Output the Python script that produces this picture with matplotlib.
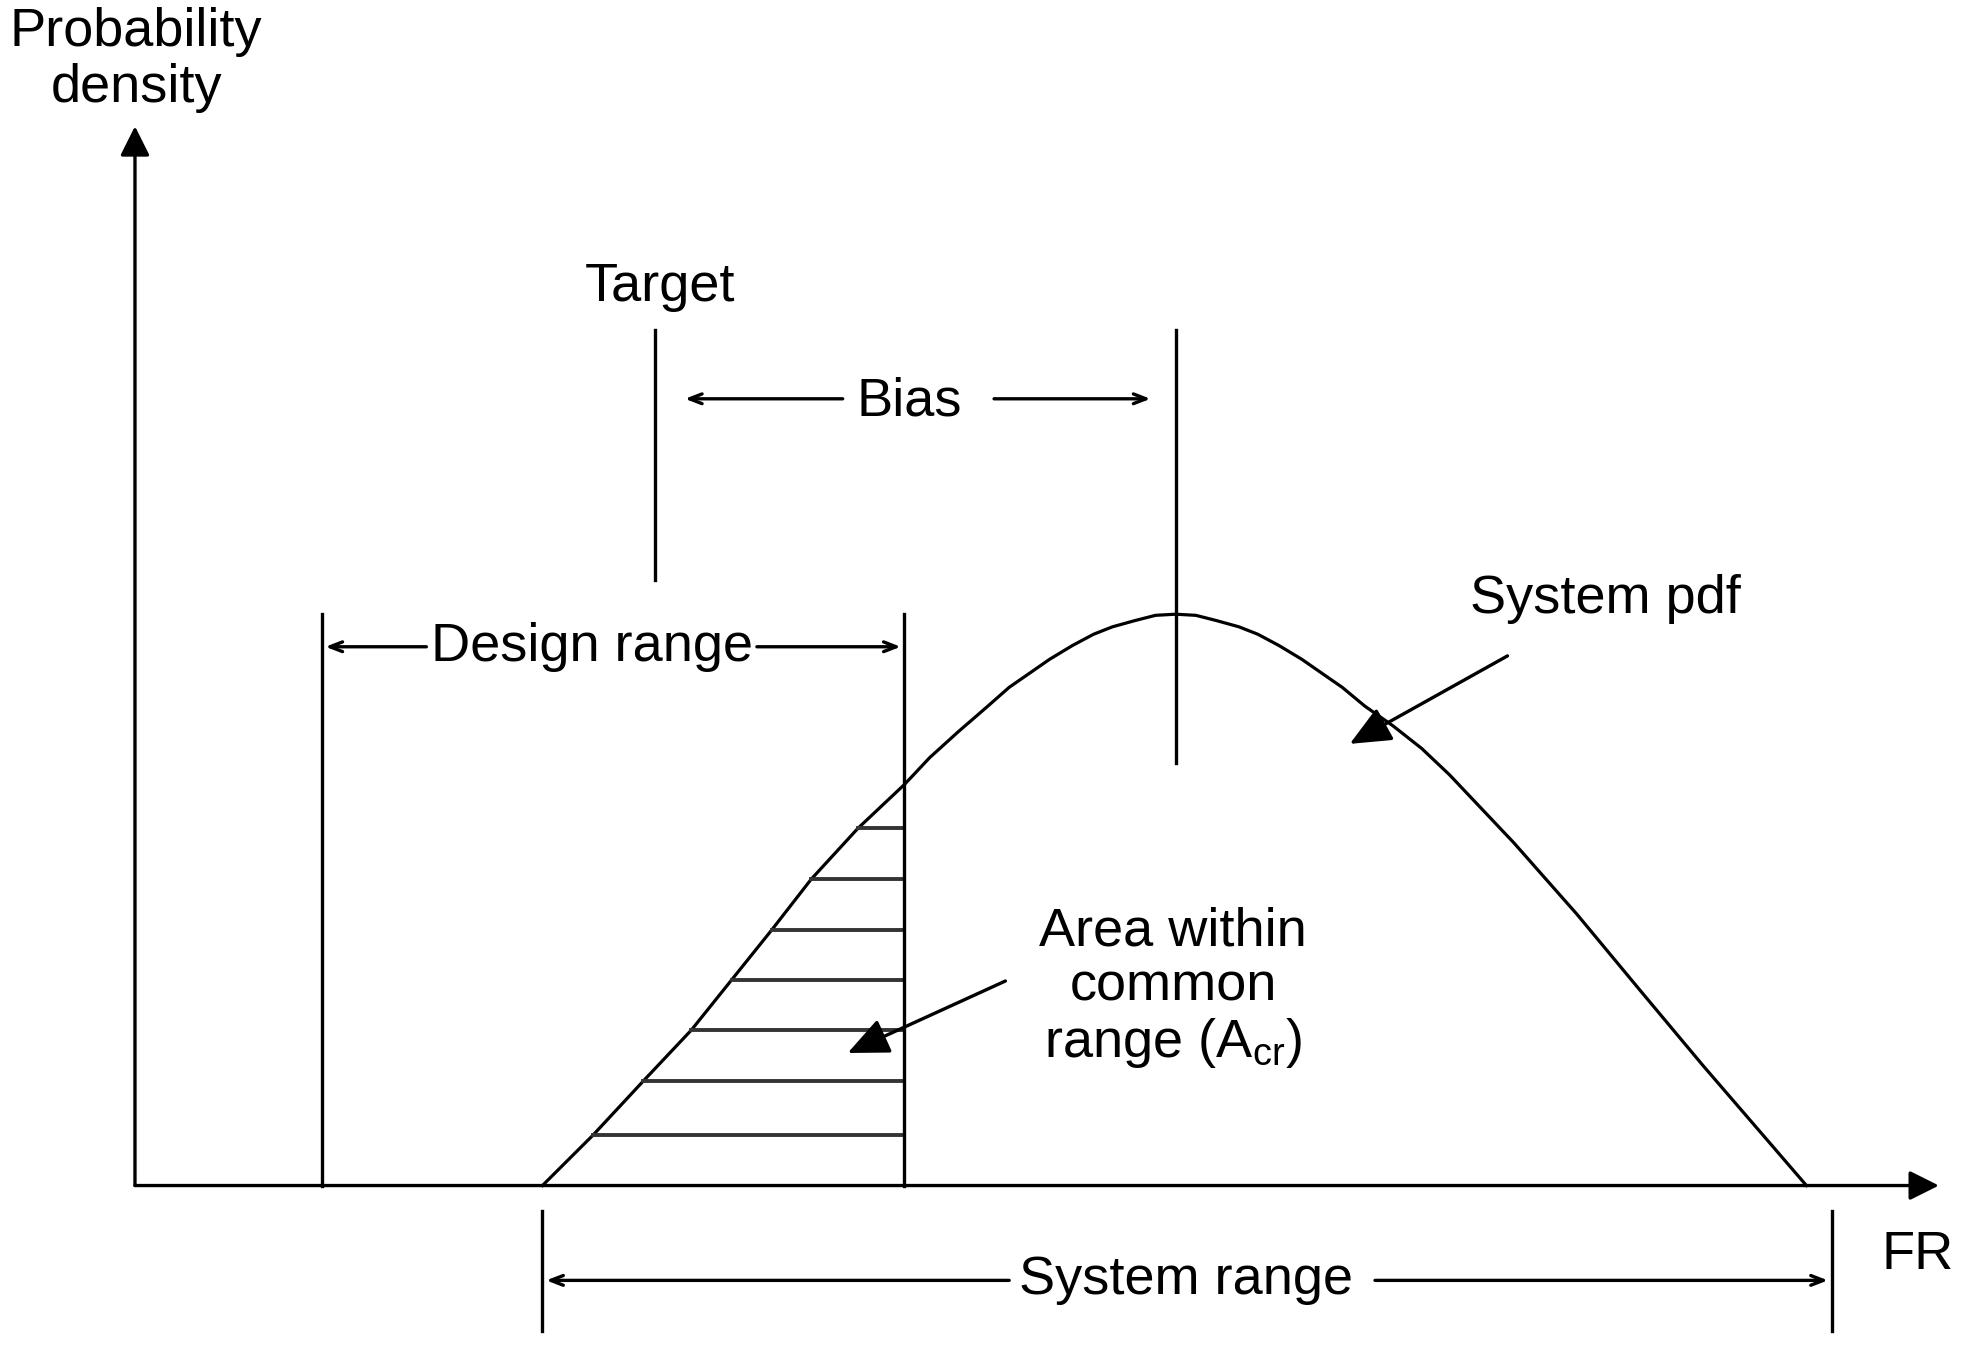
import numpy as np
import matplotlib.pyplot as plt

plt.rcParams['font.family'] = ['Liberation Sans', 'DejaVu Sans']

# system pdf (FR units, density relative to peak)
curve_fr = [3.23, 3.63, 4.03, 4.41, 4.73, 5.05, 5.36, 5.73, 6.10, 6.30, 6.53, 6.75,
            6.93, 7.10, 7.25, 7.43, 7.60, 7.75, 7.93, 8.09, 8.25, 8.41, 8.57, 8.75,
            8.90, 9.07, 9.25, 9.40, 9.57, 9.75, 9.97, 10.20, 10.42, 10.93, 11.43,
            11.93, 12.43, 12.93, 13.25]
curve_pd = [0.0, 0.088, 0.183, 0.272, 0.360, 0.448, 0.536, 0.625, 0.702, 0.749, 0.795, 0.837,
            0.872, 0.898, 0.921, 0.945, 0.965, 0.978, 0.989, 0.998, 1.0, 0.998, 0.989, 0.978,
            0.965, 0.945, 0.921, 0.898, 0.872, 0.839, 0.805, 0.765, 0.719, 0.600, 0.475,
            0.342, 0.210, 0.082, 0.0]

hatch_levels = [0.088, 0.183, 0.272, 0.360, 0.448, 0.536, 0.625]

design_lo = 1.48
design_hi = 6.10
target = 4.12
mean_fr = 8.25
sys_lo = 3.23
sys_hi = 13.45
axis_top = 1.854
axis_right = 14.30

fig = plt.figure(figsize=(19.78, 13.47), dpi=100)
ax = fig.add_axes([0, 0, 1, 1])
ax.set_xlim(-1.07, 14.61)
ax.set_ylim(-0.2826, 2.075)
ax.axis('off')

k = 'black'
lw = 2.4
fs = 39

# axes with filled arrowheads
ax.annotate('', xy=(0, axis_top), xytext=(0, 0),
            arrowprops=dict(arrowstyle='-|>', color=k, lw=lw, mutation_scale=45, shrinkA=0, shrinkB=0))
ax.annotate('', xy=(axis_right, 0), xytext=(0, 0),
            arrowprops=dict(arrowstyle='-|>', color=k, lw=lw, mutation_scale=45, shrinkA=0, shrinkB=0))

# pdf curve
ax.plot(curve_fr, curve_pd, color=k, lw=2.3, solid_joinstyle='round')

# hatching of the common range
peak_i = curve_pd.index(1.0)
rise_fr = curve_fr[:peak_i + 1]
rise_pd = curve_pd[:peak_i + 1]
for h in hatch_levels:
    x0 = np.interp(h, rise_pd, rise_fr)
    ax.plot([x0, design_hi], [h, h], color='#333333', lw=2.8)

# vertical marker lines
ax.plot([design_lo, design_lo], [0, 1.0], color=k, lw=lw)
ax.plot([design_hi, design_hi], [0, 1.0], color=k, lw=lw)
ax.plot([target, target], [1.06, 1.497], color=k, lw=lw)
ax.plot([mean_fr, mean_fr], [0.74, 1.497], color=k, lw=lw)
ax.plot([sys_lo, sys_lo], [-0.044, -0.254], color=k, lw=lw)
ax.plot([sys_hi, sys_hi], [-0.044, -0.254], color=k, lw=lw)

open_arrow = dict(arrowstyle='->,head_length=0.9,head_width=0.35', color=k, lw=lw,
                  shrinkA=0, shrinkB=0)
fill_arrow = dict(arrowstyle='-|>,head_length=0.9,head_width=0.4', color=k, lw=lw,
                  shrinkA=0, shrinkB=0, mutation_scale=28)

# design range
ax.text(3.62, 0.943, 'Design range', fontsize=fs, ha='center', va='center')
ax.annotate('', xy=(design_lo + 0.03, 0.943), xytext=(2.31, 0.943), arrowprops=open_arrow)
ax.annotate('', xy=(design_hi - 0.03, 0.943), xytext=(4.93, 0.943), arrowprops=open_arrow)

# target and bias
ax.text(4.16, 1.572, 'Target', fontsize=fs, ha='center', va='center')
ax.text(6.14, 1.372, 'Bias', fontsize=fs, ha='center', va='center')
ax.annotate('', xy=(4.36, 1.377), xytext=(5.61, 1.377), arrowprops=open_arrow)
ax.annotate('', xy=(8.05, 1.377), xytext=(6.81, 1.377), arrowprops=open_arrow)

# system pdf label
ax.text(11.66, 1.026, 'System pdf', fontsize=fs, ha='center', va='center')
ax.annotate('', xy=(9.63, 0.773), xytext=(10.88, 0.927), arrowprops=fill_arrow)

# common range label
ax.text(8.23, 0.345, 'Area within\ncommon\nrange (A$_{\\mathregular{cr}}$)', fontsize=fs,
        ha='center', va='center', linespacing=1.12)
ax.annotate('', xy=(5.65, 0.232), xytext=(6.90, 0.358), arrowprops=fill_arrow)

# system range
ax.text(8.33, -0.166, 'System range', fontsize=fs, ha='center', va='center')
ax.annotate('', xy=(sys_lo + 0.03, -0.166), xytext=(6.93, -0.166), arrowprops=open_arrow)
ax.annotate('', xy=(sys_hi - 0.03, -0.166), xytext=(9.83, -0.166), arrowprops=open_arrow)

# axis labels
ax.text(14.13, -0.121, 'FR', fontsize=fs, ha='center', va='center')
ax.text(0.01, 1.97, 'Probability\ndensity', fontsize=fs, ha='center', va='center',
        linespacing=1.15)

fig.savefig('out.png', dpi=100, facecolor='white')
